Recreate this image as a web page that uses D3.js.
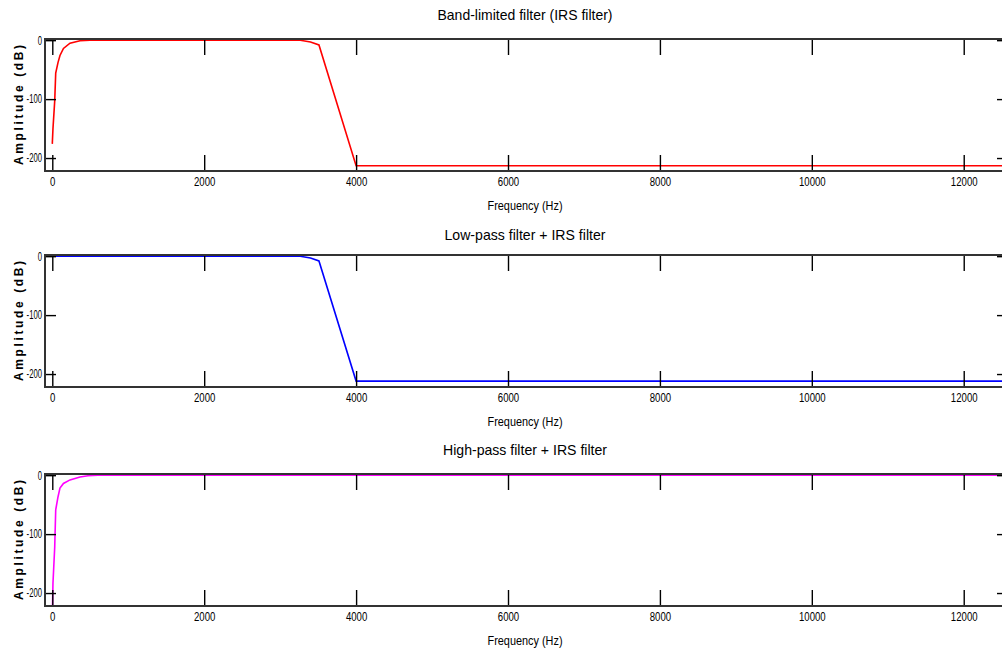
<!DOCTYPE html>
<html>
<head>
<meta charset="utf-8">
<script src="https://cdn.jsdelivr.net/npm/d3@7"></script>
<style>
  body { margin: 0; background: #fff; }
  text { font-family: "Liberation Sans Narrow", "Liberation Sans", Arial, sans-serif; fill: #000; }
</style>
</head>
<body>
<script>
// data
var titles = ['Band-limited filter (IRS filter)', 'Low-pass filter + IRS filter', 'High-pass filter + IRS filter'];
var colors = ['#ff0000', '#0000ff', '#ff00ff'];
var xTicks = [0, 2000, 4000, 6000, 8000, 10000, 12000];
var yTicks = [0, -100, -200];

var bandHz = [0, 9, 32, 45, 75, 101, 147, 233, 365, 496, 3265, 3400, 3511, 4000, 12600];
var bandDb = [-176, -150, -103, -56, -38, -26, -14, -5, -1, 0, 0, -3, -8, -213, -213];

var lowHz = [0, 3265, 3400, 3511, 4000, 12600];
var lowDb = [0, 0, -3, -8, -212, -212];

var highHz = [0, 9, 32, 45, 75, 101, 147, 233, 365, 470, 600, 12600];
var highDb = [-240, -183, -122, -59, -37, -22, -14, -8, -3, -1, 0, 0];

var series = [
  { hz: bandHz, db: bandDb },
  { hz: lowHz, db: lowDb },
  { hz: highHz, db: highDb }
];

// layout
var W = 1002, H = 655;
var left = 45, right = 1008, ph = 132;
var tops = [39, 255, 474];
var titleBase = [20, 240, 455];
var titleLen = [175, 161, 164];

var svg = d3.select('body').append('svg')
  .attr('width', W)
  .attr('height', H);

var x = d3.scaleLinear().domain([-96, 12583]).range([left, right]);

// squeeze a label to look like the narrow font of the original
function squeeze(sel, k) {
  sel.each(function () {
    var len = this.getComputedTextLength();
    if (len > 0) {
      d3.select(this)
        .attr('textLength', len * k)
        .attr('lengthAdjust', 'spacingAndGlyphs');
    }
  });
}

series.forEach(function (s, i) {
  var top = tops[i];
  var y = d3.scaleLinear().domain([-222, 2]).range([top + ph, top]);
  var g = svg.append('g');

  g.append('clipPath').attr('id', 'clip' + i)
    .append('rect')
    .attr('x', left).attr('y', top)
    .attr('width', right - left).attr('height', ph);

  var pts = s.hz.map(function (h, k) { return [h, s.db[k]]; });
  var line = d3.line()
    .x(function (d) { return x(d[0]); })
    .y(function (d) { return y(d[1]); });

  g.append('path')
    .datum(pts)
    .attr('d', line)
    .attr('fill', 'none')
    .attr('stroke', colors[i])
    .attr('stroke-width', 1.6)
    .attr('clip-path', 'url(#clip' + i + ')');

  var fmt = function (d) { return String(d); };

  var bx = g.append('g')
    .attr('transform', 'translate(0,' + (top + ph) + ')')
    .call(d3.axisBottom(x).tickValues(xTicks).tickSizeInner(-16).tickSizeOuter(0).tickPadding(6).tickFormat(fmt));
  var tx = g.append('g')
    .attr('transform', 'translate(0,' + top + ')')
    .call(d3.axisTop(x).tickValues(xTicks).tickSizeInner(-16).tickSizeOuter(0).tickFormat(''));
  var ly = g.append('g')
    .attr('transform', 'translate(' + left + ',0)')
    .call(d3.axisLeft(y).tickValues(yTicks).tickSizeInner(-11).tickSizeOuter(0).tickPadding(3).tickFormat(fmt));
  var ry = g.append('g')
    .attr('transform', 'translate(' + right + ',0)')
    .call(d3.axisRight(y).tickValues(yTicks).tickSizeInner(-11).tickSizeOuter(0).tickFormat(''));

  [bx, tx, ly, ry].forEach(function (a) {
    a.select('.domain').remove();
    a.selectAll('line').attr('stroke', '#000').attr('stroke-width', 1.4);
    a.selectAll('text')
      .style('font-family', '"Liberation Sans Narrow", "Liberation Sans", Arial, sans-serif')
      .style('font-size', '12px')
      .attr('fill', '#000');
  });
  squeeze(bx.selectAll('text'), 0.8);
  squeeze(ly.selectAll('text'), 0.64);

  g.append('rect')
    .attr('x', left).attr('y', top)
    .attr('width', right - left).attr('height', ph)
    .attr('fill', 'none')
    .attr('stroke', '#333')
    .attr('stroke-width', 2);

  g.append('text')
    .attr('x', 525)
    .attr('y', titleBase[i])
    .attr('text-anchor', 'middle')
    .attr('textLength', titleLen[i])
    .attr('lengthAdjust', 'spacingAndGlyphs')
    .style('font-size', '15px')
    .text(titles[i]);

  g.append('text')
    .attr('x', 525)
    .attr('y', top + ph + 39)
    .attr('text-anchor', 'middle')
    .attr('textLength', 75)
    .attr('lengthAdjust', 'spacingAndGlyphs')
    .style('font-size', '12px')
    .text('Frequency (Hz)');

  g.append('text')
    .attr('transform', 'translate(23,' + (top + ph / 2) + ') rotate(-90)')
    .attr('text-anchor', 'middle')
    .attr('textLength', 120)
    .attr('lengthAdjust', 'spacing')
    .style('font-size', '12px')
    .style('font-weight', 'bold')
    .text('Amplitude (dB)');
});
</script>
</body>
</html>
